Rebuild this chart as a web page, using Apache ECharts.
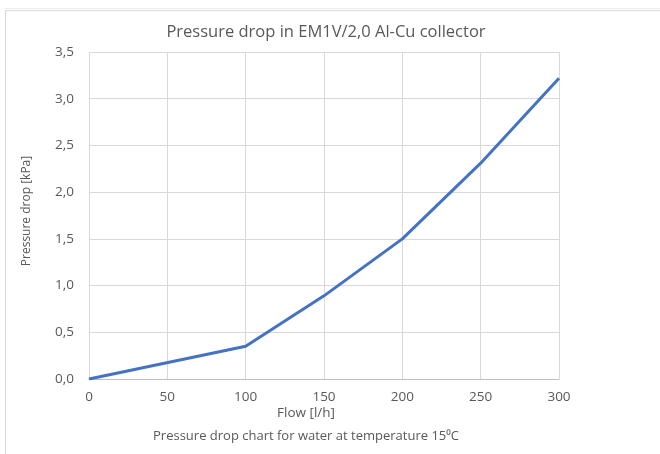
<!DOCTYPE html>
<html><head><meta charset="utf-8">
<script src="https://cdn.jsdelivr.net/npm/echarts@6/dist/echarts.min.js"></script>
<style>html,body{margin:0;padding:0;background:#fff}#c{width:660px;height:454px}</style>
</head><body><div id="c"></div>
<script>
const flow = [0, 100, 150, 200, 250, 300];
const pressure = [0, 0.35, 0.89, 1.5, 2.31, 3.22];
const titleText = 'Pressure drop in EM1V/2,0 Al-Cu collector';
const xName = 'Flow [l/h]';
const yName = 'Pressure drop [kPa]';
const note = 'Pressure drop chart for water at temperature 15\u2070C';
const FONT = '"Open Sans", sans-serif';
const chart = echarts.init(document.getElementById('c'));
chart.setOption({
  animation: false,
  title: {text: titleText, left: 321, textAlign: 'center', top: 19,
    textStyle: {fontFamily: FONT, fontSize: 16.5, fontWeight: 'normal', color: '#595959'}},
  grid: {left: 89, right: 101, top: 52, bottom: 75},
  xAxis: {type: 'value', min: 0, max: 300, interval: 50,
    axisLine: {lineStyle: {color: '#bfbfbf'}}, axisTick: {show: false},
    splitLine: {lineStyle: {color: '#d9d9d9'}},
    axisLabel: {fontFamily: FONT, fontSize: 13.5, color: '#595959', margin: 11}},
  yAxis: {type: 'value', min: 0, max: 3.5, interval: 0.5,
    axisLine: {show: false}, axisTick: {show: false},
    splitLine: {lineStyle: {color: '#d9d9d9'}},
    axisLabel: {fontFamily: FONT, fontSize: 13.5, color: '#595959', margin: 15,
      formatter: v => v.toFixed(1).replace('.', ',')}},
  graphic: [
    {type: 'line', shape: {x1: 5.5, y1: 11, x2: 5.5, y2: 454}, style: {stroke: '#d9d9d9', lineWidth: 1}},
    {type: 'line', shape: {x1: 5, y1: 10.5, x2: 660, y2: 10.5}, style: {stroke: '#d9d9d9', lineWidth: 1}},
    {type: 'line', shape: {x1: 5, y1: 8.5, x2: 660, y2: 8.5}, style: {stroke: '#eeeeee', lineWidth: 1}},
    {type: 'text', x: 27, y: 211, rotation: Math.PI / 2,
      style: {text: yName, fontFamily: FONT, fontSize: 12, fill: '#595959', align: 'center', verticalAlign: 'middle'}},
    {type: 'text', x: 306, y: 413,
      style: {text: xName, fontFamily: FONT, fontSize: 13.5, fill: '#595959', align: 'center', verticalAlign: 'middle'}},
    {type: 'text', x: 306, y: 436,
      style: {text: note, fontFamily: FONT, fontSize: 13, fill: '#595959', align: 'center', verticalAlign: 'middle'}}
  ],
  series: [{type: 'line', data: flow.map((f, i) => [f, pressure[i]]),
    showSymbol: false, lineStyle: {color: '#4472C4', width: 3}, itemStyle: {color: '#4472C4'}}]
});
</script></body></html>
